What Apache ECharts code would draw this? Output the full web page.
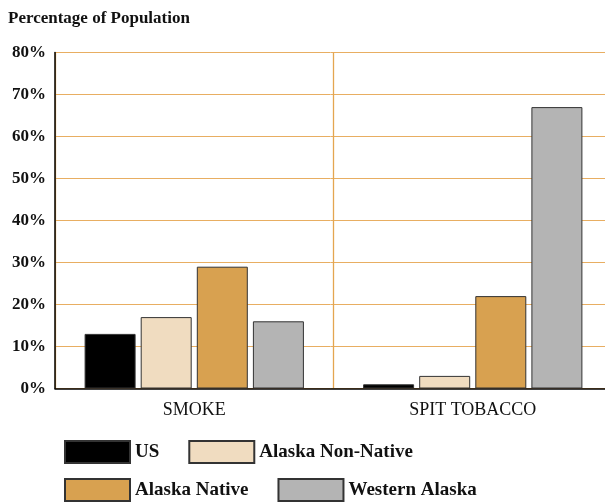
<!DOCTYPE html>
<html><head><meta charset="utf-8">
<script src="https://cdn.jsdelivr.net/npm/echarts@6/dist/echarts.min.js"></script>
<style>html,body{margin:0;padding:0;background:#fff}#c{width:605px;height:503px}</style>
</head><body><div id="c"></div>
<script>
const categories = ['SMOKE', 'SPIT TOBACCO'];
const seriesNames = ['US', 'Alaska Non-Native', 'Alaska Native', 'Western Alaska'];
const usValues = [13, 1];
const nonNativeValues = [17, 3];
const nativeValues = [29, 22];
const westernValues = [16, 67];
const yTicks = [0, 10, 20, 30, 40, 50, 60, 70, 80];
const colors = ['#000000', '#f0dcc0', '#d8a150', '#b4b4b4'];

const font = '"Liberation Serif", "DejaVu Serif", serif';
const values = [usValues, nonNativeValues, nativeValues, westernValues];
const gridColor = '#e8ae62';
const chart = echarts.init(document.getElementById('c'), null, {renderer: 'canvas'});
chart.setOption({
  animation: false,
  textStyle: {fontFamily: font},
  title: {text: 'Percentage of Population', left: 3, top: 5,
    textStyle: {fontFamily: font, fontWeight: 'bold', fontSize: 17, color: '#111'}},
  grid: {left: 55, top: 52.5, width: 557, height: 336, containLabel: false, outerBoundsMode: 'none'},
  legend: [
    {data: [seriesNames[0], seriesNames[1]], left: 59, top: 435, itemWidth: 65, itemHeight: 22, itemGap: 29,
      textStyle: {fontFamily: font, fontWeight: 'bold', fontSize: 19, color: '#111'}, icon: 'rect'},
    {data: [seriesNames[2], seriesNames[3]], left: 59, top: 473, itemWidth: 65, itemHeight: 22, itemGap: 29,
      textStyle: {fontFamily: font, fontWeight: 'bold', fontSize: 19, color: '#111'}, icon: 'rect'}
  ],
  xAxis: {type: 'category', data: categories,
    axisLine: {lineStyle: {color: '#000', width: 1.5}}, axisTick: {show: false},
    axisLabel: {fontFamily: font, fontSize: 18, color: '#111', margin: 13},
    splitLine: {show: true, lineStyle: {color: '#e4a650', width: 1.3}}},
  yAxis: {type: 'value', min: yTicks[0], max: yTicks[yTicks.length - 1], interval: 10,
    axisLine: {show: true, lineStyle: {color: '#000', width: 1.5}}, axisTick: {show: false},
    axisLabel: {fontFamily: font, fontWeight: 'bold', fontSize: 17, color: '#111', margin: 9,
      formatter: v => v + '%'},
    splitLine: {show: true, lineStyle: {color: gridColor, width: 1}}},
  series: seriesNames.map((n, i) => ({
    name: n, type: 'bar', data: values[i], barWidth: 51, barGap: '10%',
    itemStyle: {color: colors[i], borderColor: '#333', borderWidth: 1}
  }))
});
</script></body></html>
